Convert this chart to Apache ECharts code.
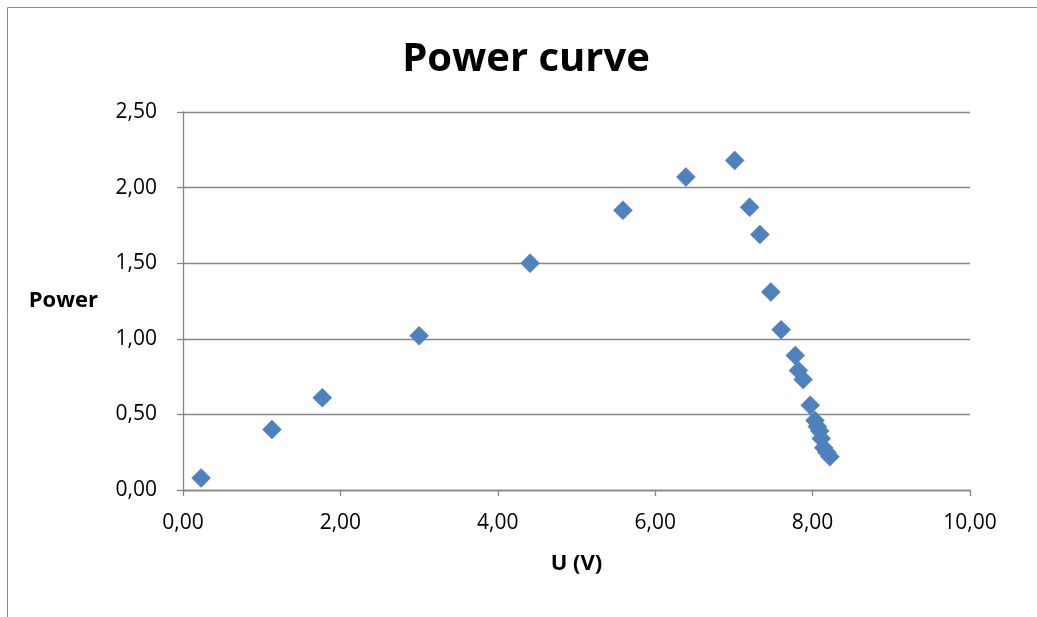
<!DOCTYPE html>
<html><head><meta charset="utf-8">
<script src="https://cdn.jsdelivr.net/npm/echarts@6/dist/echarts.min.js"></script>
<style>html,body{margin:0;padding:0;background:#fff}#c{width:1037px;height:617px}</style>
</head><body><div id="c"></div>
<script>
const uValues = [0.23, 1.13, 1.77, 3.00, 4.41, 5.59, 6.39, 7.01, 7.20, 7.33, 7.47, 7.60, 7.78, 7.82, 7.88, 7.97, 8.03, 8.06, 8.09, 8.11, 8.14, 8.18, 8.22];
const powerValues = [0.08, 0.40, 0.61, 1.02, 1.50, 1.85, 2.07, 2.18, 1.87, 1.69, 1.31, 1.06, 0.89, 0.79, 0.73, 0.56, 0.46, 0.42, 0.39, 0.34, 0.28, 0.25, 0.22];
const xTicks = [0, 2, 4, 6, 8, 10];
const yTicks = [0, 0.5, 1, 1.5, 2, 2.5];
const fmt = v => v.toFixed(2).replace('.', ',');
const chart = echarts.init(document.getElementById('c'));
chart.setOption({
  animation: false,
  graphic: [{type:'rect', shape:{x:7.5,y:7.5,width:1040,height:620}, style:{fill:'none', stroke:'#8c8c8c', lineWidth:1}}],
  title: {text:'Power curve', left:521, top:35, textAlign:'center', textStyle:{fontFamily:'Open Sans', fontWeight:'bold', fontSize:40, color:'#000'}},
  grid: {left:183, right:67, top:112, bottom:127},
  xAxis: {type:'value', min:xTicks[0], max:xTicks[xTicks.length-1], interval:2,
    name:'U (V)', nameLocation:'middle', nameGap:63,
    nameTextStyle:{fontFamily:'Open Sans', fontWeight:'bold', fontSize:22, color:'#000'},
    axisLine:{lineStyle:{color:'#868686', width:1.3}}, axisTick:{show:true, length:6, lineStyle:{color:'#868686', width:1.3}},
    axisLabel:{formatter:fmt, fontFamily:'Open Sans', fontSize:21, color:'#000', margin:23},
    splitLine:{show:false}},
  yAxis: {type:'value', min:yTicks[0], max:yTicks[yTicks.length-1], interval:0.5,
    name:'Power', nameLocation:'middle', nameRotate:0, nameGap:85,
    nameTextStyle:{fontFamily:'Open Sans', fontWeight:'bold', fontSize:22, color:'#000'},
    axisLine:{show:true, lineStyle:{color:'#868686', width:1.3}}, axisTick:{show:true, length:6, lineStyle:{color:'#868686', width:1.3}},
    axisLabel:{formatter:fmt, fontFamily:'Open Sans', fontSize:21, color:'#000', margin:26},
    splitLine:{show:true, lineStyle:{color:'#868686', width:1.3}}},
  series: [{type:'scatter', symbol:'diamond', symbolSize:19,
    itemStyle:{color:'#4F81BD', borderColor:'#4a7ab3', borderWidth:0.5, opacity:1},
    data: uValues.map((u,i)=>[u, powerValues[i]])}]
});
</script></body></html>
